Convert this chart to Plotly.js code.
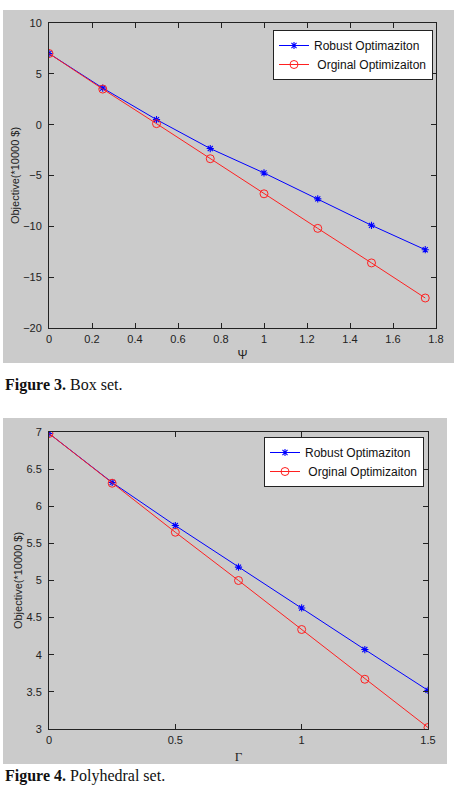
<!DOCTYPE html>
<html>
<head>
<meta charset="utf-8">
<script src="https://cdn.plot.ly/plotly-3.0.1.min.js"></script>
<style>
html,body{margin:0;padding:0;background:#fff;}
#chart{width:457px;height:787px;}
</style>
</head>
<body>
<div id="chart"></div>
<script>
// Figure 3 (Box set)
const psi = [0, 0.25, 0.5, 0.75, 1.0, 1.25, 1.5, 1.75];
const robustBox = [7.0, 3.6, 0.5, -2.35, -4.75, -7.3, -9.9, -12.3];
const originalBox = [7.0, 3.5, 0.1, -3.35, -6.8, -10.2, -13.6, -17.05];

// Figure 4 (Polyhedral set)
const gamma = [0, 0.25, 0.5, 0.75, 1.0, 1.25, 1.5];
const robustPoly = [6.98, 6.32, 5.74, 5.18, 4.63, 4.07, 3.52];
const originalPoly = [6.98, 6.31, 5.65, 5.0, 4.34, 3.67, 3.02];

const seriesNames = ['Robust Optimaziton', ' Orginal Optimizaiton'];
const captions = ['<b>Figure 3.</b> Box set.', '<b>Figure 4.</b> Polyhedral set.'];

const W = 457, H = 787;
const px = v => v / W;
const py = v => 1 - v / H;

const blue = '#0000ff', red = '#ff2020';

const blueMarker = {symbol: 'asterisk-open', size: 6, color: blue, line: {color: blue, width: 1.1}};
const redMarker = {symbol: 'circle-open', size: 8, color: red, line: {color: red, width: 1}};

const traces = [
  {x: psi, y: robustBox, name: seriesNames[0], type: 'scatter', mode: 'lines+markers',
   xaxis: 'x', yaxis: 'y', legend: 'legend', line: {color: blue, width: 1}, marker: blueMarker},
  {x: psi, y: originalBox, name: seriesNames[1], type: 'scatter', mode: 'lines+markers',
   xaxis: 'x', yaxis: 'y', legend: 'legend', line: {color: red, width: 1}, marker: redMarker},
  {x: gamma, y: robustPoly, name: seriesNames[0], type: 'scatter', mode: 'lines+markers',
   xaxis: 'x2', yaxis: 'y2', legend: 'legend2', line: {color: blue, width: 1}, marker: blueMarker},
  {x: gamma, y: originalPoly, name: seriesNames[1], type: 'scatter', mode: 'lines+markers',
   xaxis: 'x2', yaxis: 'y2', legend: 'legend2', line: {color: red, width: 1}, marker: redMarker}
];

const sans = 'Liberation Sans, Arial, sans-serif';
const tickFont = {family: sans, size: 11, color: '#222'};
const axisBase = {
  showline: true, linecolor: '#222', linewidth: 1, mirror: 'ticks',
  ticks: 'inside', ticklen: 5, tickcolor: '#222', tickwidth: 1,
  showgrid: false, zeroline: false, tickfont: tickFont, fixedrange: true
};
const yTitleFont = {family: sans, size: 11, color: '#222'};

const legendBase = {
  bgcolor: '#ffffff', bordercolor: '#222', borderwidth: 1,
  font: {family: sans, size: 12, color: '#111'},
  xref: 'paper', yref: 'paper', xanchor: 'right', yanchor: 'top', tracegroupgap: 0
};

const layout = {
  width: W, height: H,
  margin: {l: 0, r: 0, t: 0, b: 0},
  paper_bgcolor: '#ffffff', plot_bgcolor: '#ffffff',
  showlegend: true,
  xaxis: Object.assign({}, axisBase, {
    domain: [px(49), px(436)], range: [0, 1.8], dtick: 0.2, tick0: 0, anchor: 'y',
    ticklabelstandoff: 1,
    title: {text: 'Ψ', font: {family: sans, size: 12, color: '#222'}, standoff: 6}
  }),
  yaxis: Object.assign({}, axisBase, {
    domain: [py(328), py(23)], range: [-20, 10], dtick: 5, tick0: 0, anchor: 'x',
    ticklabelstandoff: 4,
    title: {text: 'Objective(*10000 $)', font: yTitleFont, standoff: 1}
  }),
  xaxis2: Object.assign({}, axisBase, {
    domain: [px(49), px(428)], range: [0, 1.5], dtick: 0.5, tick0: 0, anchor: 'y2',
    ticklabelstandoff: 1,
    title: {text: 'Γ', font: {family: 'Liberation Serif, Times New Roman, serif', size: 13, color: '#222'}, standoff: 6}
  }),
  yaxis2: Object.assign({}, axisBase, {
    domain: [py(729), py(432)], range: [3, 7], dtick: 0.5, tick0: 3, anchor: 'x2',
    ticklabelstandoff: 4,
    title: {text: 'Objective(*10000 $)', font: yTitleFont, standoff: 1}
  }),
  legend: Object.assign({}, legendBase, {x: px(433), y: py(30)}),
  legend2: Object.assign({}, legendBase, {x: px(424), y: py(437)}),
  shapes: [
    {type: 'rect', xref: 'paper', yref: 'paper', x0: px(3), x1: px(454), y0: py(363), y1: py(10),
     fillcolor: '#cbcbcb', line: {width: 0}, layer: 'below'},
    {type: 'rect', xref: 'paper', yref: 'paper', x0: px(3), x1: px(447), y0: py(764), y1: py(418),
     fillcolor: '#cbcbcb', line: {width: 0}, layer: 'below'}
  ],
  annotations: [
    {text: captions[0], xref: 'paper', yref: 'paper', x: px(3), y: py(385), xanchor: 'left', yanchor: 'middle',
     showarrow: false, font: {family: 'Liberation Serif, Times New Roman, serif', size: 16, color: '#111'}},
    {text: captions[1], xref: 'paper', yref: 'paper', x: px(3), y: py(776), xanchor: 'left', yanchor: 'middle',
     showarrow: false, font: {family: 'Liberation Serif, Times New Roman, serif', size: 16, color: '#111'}}
  ]
};

Plotly.newPlot('chart', traces, layout, {staticPlot: true, displayModeBar: false});
</script>
</body>
</html>
